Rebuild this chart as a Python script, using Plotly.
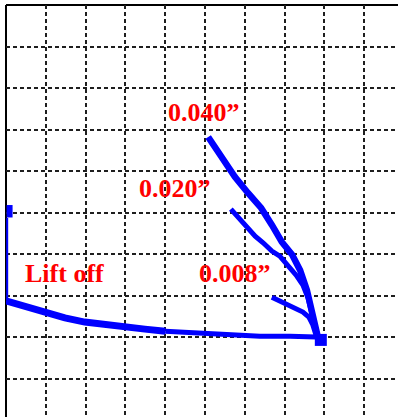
import plotly.graph_objects as go

# Data in grid-cell units (x to the right, y upward)
liftoff_vert_x = [0.03, 0.03]
liftoff_vert_y = [4.87, 2.89]
liftoff_block_x = [0.09, 0.09]
liftoff_block_y = [5.18, 4.88]

liftoff_x = [0.0, 0.35, 0.98, 1.48, 1.98, 2.49, 2.99, 3.49, 4.0]
liftoff_y = [2.87, 2.77, 2.58, 2.46, 2.36, 2.29, 2.24, 2.19, 2.14]
liftoff2_x = [4.0, 4.5, 4.87, 5.63, 6.38, 7.14, 7.79]
liftoff2_y = [2.14, 2.12, 2.10, 2.07, 2.02, 2.02, 2.0]

end_x = [7.91]
end_y = [1.93]

c040_x = [5.08, 5.45, 5.75, 6.08, 6.41, 6.68, 6.93, 7.19, 7.39, 7.56, 7.69, 7.79, 7.84]
c040_y = [6.82, 6.27, 5.86, 5.47, 5.11, 4.70, 4.29, 3.98, 3.61, 3.13, 2.65, 2.17, 1.98]

c020_x = [5.65, 5.88, 6.06, 6.26, 6.46, 6.68, 6.88, 7.09, 7.29, 7.46, 7.59, 7.69, 7.81]
c020_y = [5.08, 4.82, 4.63, 4.43, 4.27, 4.07, 3.95, 3.73, 3.49, 3.25, 2.94, 2.53, 1.98]

c008_x = [6.68, 6.88, 7.06, 7.29, 7.46, 7.61, 7.71, 7.81]
c008_y = [2.96, 2.87, 2.77, 2.67, 2.60, 2.48, 2.29, 1.98]

labels = ["0.040\u201d", "0.020\u201d", "0.008\u201d", "Lift off"]
label_x = [4.97, 4.25, 5.75, 1.46]
label_y = [7.42, 5.59, 3.54, 3.54]

BLUE = "#0000ff"
fig = go.Figure()

def line(x, y, w):
    fig.add_trace(go.Scatter(x=x, y=y, mode="lines",
                             line=dict(color=BLUE, width=w),
                             hoverinfo="skip", showlegend=False))

line(liftoff_vert_x, liftoff_vert_y, 2)
line(liftoff_block_x, liftoff_block_y, 6)
line(liftoff_x, liftoff_y, 7)
line(liftoff2_x, liftoff2_y, 5)
line(c040_x, c040_y, 6.5)
line(c020_x, c020_y, 5)
line(c008_x, c008_y, 5)
fig.add_trace(go.Scatter(x=end_x, y=end_y, mode="markers",
                         marker=dict(symbol="square", size=12, color=BLUE),
                         hoverinfo="skip", showlegend=False))

for t, x, y in zip(labels, label_x, label_y):
    fig.add_annotation(x=x, y=y, text="<b>%s</b>" % t, showarrow=False,
                       font=dict(family="Liberation Serif", size=26, color="#ff0000"),
                       xanchor="center", yanchor="middle")

W, H = 398, 417
ml, mt = 6, 5
xr = (W - ml) / 39.8
yr = 10 - (H - mt) / 41.5

fig.update_xaxes(range=[0, xr], dtick=1, tick0=0, showgrid=True,
                 gridcolor="#1e1e1e", griddash="4px,3px", gridwidth=1.5,
                 zeroline=False, showticklabels=False, ticks="", showline=False)
fig.update_yaxes(range=[yr, 10], dtick=1, tick0=0, showgrid=True,
                 gridcolor="#1e1e1e", griddash="4px,3px", gridwidth=1.5,
                 zeroline=False, showticklabels=False, ticks="", showline=False)

# top and left frame
fig.add_shape(type="line", xref="paper", yref="paper", x0=0, x1=1, y0=1, y1=1,
              line=dict(color="black", width=2), layer="below")
fig.add_shape(type="line", xref="paper", yref="paper", x0=0, x1=0, y0=0, y1=1,
              line=dict(color="black", width=2), layer="below")

fig.update_layout(width=W, height=H, margin=dict(l=ml, r=0, t=mt, b=0),
                  paper_bgcolor="white", plot_bgcolor="white", showlegend=False)

fig.write_html("out.html", config={"displayModeBar": False},
               post_script="document.body.style.margin='0';document.body.style.overflow='hidden';")
